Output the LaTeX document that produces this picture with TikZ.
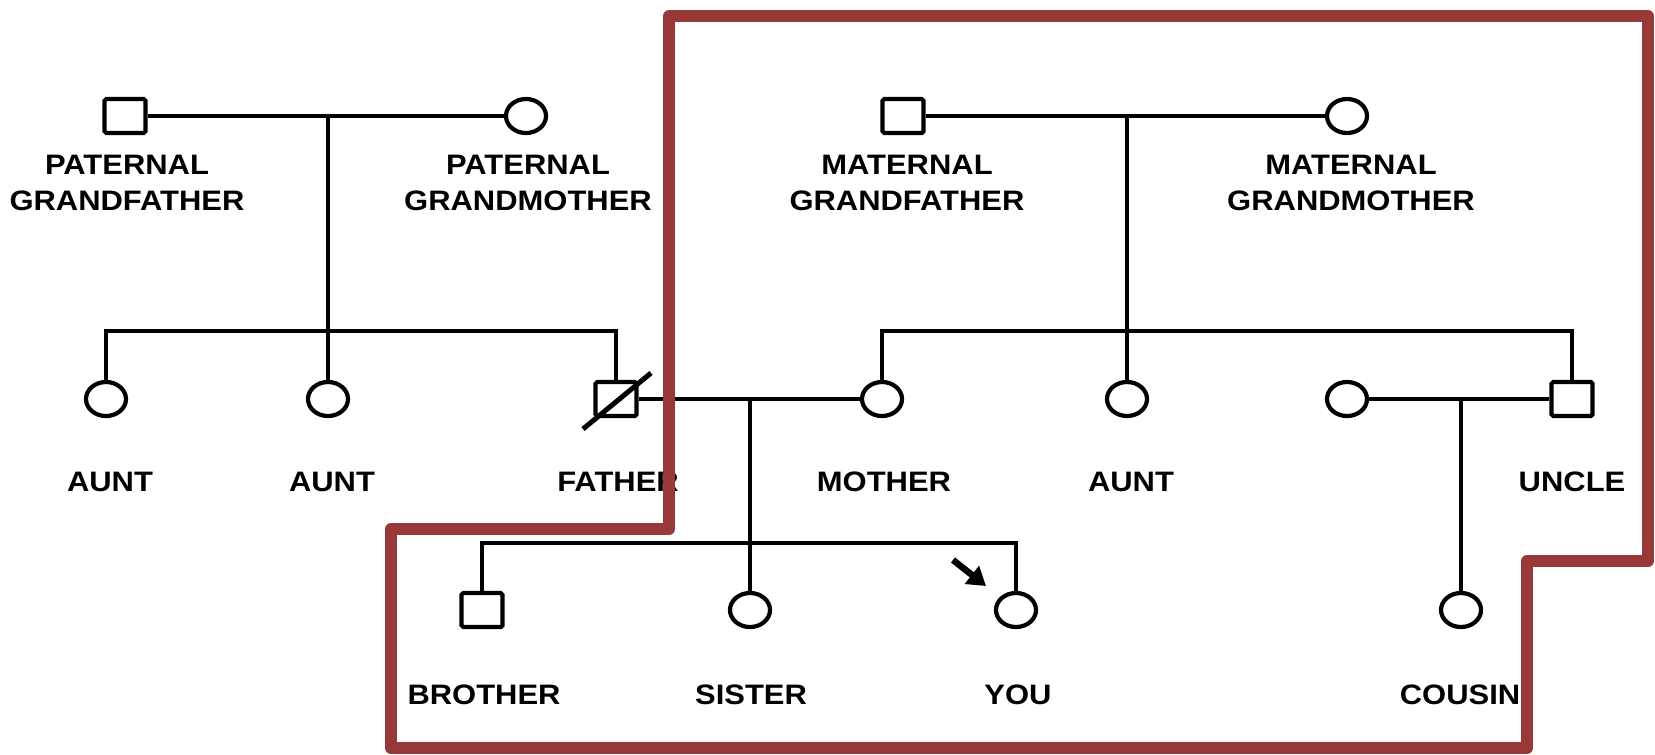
\documentclass[tikz,border=0pt]{standalone}
\usepackage{fontspec}
\newfontfamily\pedfont{Liberation Sans}[FakeStretch=1.1]
\usepackage{tikz}
\usetikzlibrary{positioning,arrows.meta,shapes.geometric}
\definecolor{borderRed}{RGB}{153,56,56}

\begin{document}
\begin{tikzpicture}[
    x=0.01cm, y=-0.01cm,
    maleNode/.style={rectangle, draw=black, line width=0.042cm, minimum width=0.41cm, minimum height=0.34cm, inner sep=0pt, rounded corners=0.5pt},
    femaleNode/.style={ellipse, draw=black, line width=0.042cm, minimum width=0.40cm, minimum height=0.34cm, inner sep=0pt},
    nameLabel/.style={font=\pedfont\bfseries\fontsize{8}{10}\selectfont, align=center, inner sep=0pt},
    kinLine/.style={draw=black, line width=0.042cm},
    pointerArrow/.style={-{Triangle[length=0.18cm, width=0.22cm]}, line width=0.065cm},
    focusBorder/.style={draw=borderRed, line width=0.12cm, line join=round}
]
\useasboundingbox (0,0) rectangle (1655,754);

% ================= GRANDPARENTS =================
\node[maleNode] (pgf) at (125,116) {};
\node[femaleNode] (pgm) at (526,116) {};
\node[maleNode] (mgf) at (903,116) {};
\node[femaleNode] (mgm) at (1347,116) {};

\node[nameLabel] (pgfLbl) at (127,183) {PATERNAL\\GRANDFATHER};
\node[nameLabel] (pgmLbl) at (528,183) {PATERNAL\\GRANDMOTHER};
\node[nameLabel] (mgfLbl) at (907,183) {MATERNAL\\GRANDFATHER};
\node[nameLabel] (mgmLbl) at (1351,183) {MATERNAL\\GRANDMOTHER};

% ================= PARENTS, AUNTS, UNCLE =================
\node[femaleNode] (aunt1) at (106,399) {};
\node[femaleNode] (aunt2) at (328,399) {};
\node[maleNode] (father) at (616,399) {};
\node[femaleNode] (mother) at (882,399) {};
\node[femaleNode] (aunt3) at (1127,399) {};
\node[femaleNode] (uncleWife) at (1347,399) {};
\node[maleNode] (uncle) at (1572,399) {};

\node[nameLabel] (aunt1Lbl) at (110,482) {AUNT};
\node[nameLabel] (aunt2Lbl) at (332,482) {AUNT};
\node[nameLabel] (fatherLbl) at (618,482) {FATHER};
\node[nameLabel] (motherLbl) at (884,482) {MOTHER};
\node[nameLabel] (aunt3Lbl) at (1131,482) {AUNT};
\node[nameLabel] (uncleLbl) at (1572,482) {UNCLE};

% deceased
\draw[kinLine, line width=0.05cm] ([xshift=-0.33cm, yshift=-0.30cm]father.center) -- ([xshift=0.35cm, yshift=0.26cm]father.center);

% ================= CHILDREN =================
\node[maleNode] (brother) at (482,610) {};
\node[femaleNode] (sister) at (750,610) {};
\node[femaleNode] (you) at (1016,610) {};
\node[femaleNode] (cousin) at (1461,610) {};

\node[nameLabel] (brotherLbl) at (484,695) {BROTHER};
\node[nameLabel] (sisterLbl) at (751,695) {SISTER};
\node[nameLabel] (youLbl) at (1018,695) {YOU};
\node[nameLabel] (cousinLbl) at (1460,695) {COUSIN};

% ================= LINES =================
\coordinate (patSib) at (328,331);
\coordinate (matSib) at (1127,331);
\coordinate (kidsSib) at (750,543);

\draw[kinLine] (pgf) -- (pgm);
\draw[kinLine] (aunt2.north) -- (aunt2 |- pgf);
\draw[kinLine] (aunt1.north) -- (aunt1 |- patSib) -- (father |- patSib) -- (father.north);

\draw[kinLine] (mgf) -- (mgm);
\draw[kinLine] (aunt3.north) -- (aunt3 |- mgf);
\draw[kinLine] (mother.north) -- (mother |- matSib) -- (uncle |- matSib) -- (uncle.north);

\draw[kinLine] (father) -- (mother);
\draw[kinLine] (sister.north) -- (sister |- father);
\draw[kinLine] (brother.north) -- (brother |- kidsSib) -- (you |- kidsSib) -- (you.north);

\draw[kinLine] (uncleWife) -- (uncle);
\draw[kinLine] (cousin.north) -- (cousin |- uncle);

% pointer to self
\coordinate (youPtr) at (953,560);
\draw[pointerArrow] (youPtr) -- ([xshift=-0.30cm, yshift=0.24cm]you.center);

% ================= MATERNAL SIDE BORDER =================
\draw[focusBorder] (669,16) -- (1648,16) -- (1648,561) -- (1527,561) -- (1527,748)
    -- (391,748) -- (391,529) -- (669,529) -- cycle;

\end{tikzpicture}
\end{document}
